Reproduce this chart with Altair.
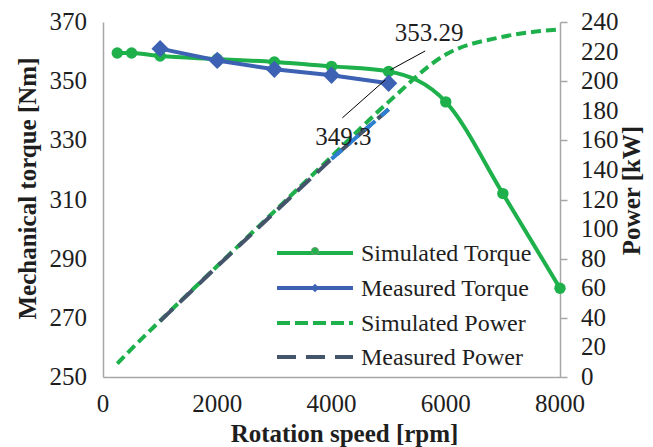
import altair as alt
import pandas as pd

# ---------------- data ----------------
sim_rpm = [250, 500, 1000, 2000, 3000, 4000, 5000, 6000, 7000, 8000]
sim_torque = [359.5, 359.5, 358.5, 357.5, 356.5, 355.0, 353.29, 343.0, 312.0, 280.0]
sim_power = [9, 19, 38, 75, 112, 149, 186, 218, 230, 235]

meas_rpm = [1000, 2000, 3000, 4000, 5000]
meas_torque = [361.0, 357.0, 354.0, 352.0, 349.3]
meas_power = [37.8, 74.8, 111.2, 147.4, 181.0]

ann_text = ["353.29", "349.3"]
ann_text_x = [5710, 4210]
ann_text_y = [366.3, 331.1]
ann_x1 = [5640, 4190]
ann_y1 = [360.2, 337.6]
ann_x2 = [5030, 4940]
ann_y2 = [353.8, 350.4]

x_ticks = [0, 2000, 4000, 6000, 8000]
torque_ticks = [250, 270, 290, 310, 330, 350, 370]
power_ticks = [0, 20, 40, 60, 80, 100, 120, 140, 160, 180, 200, 220, 240]

legend_labels = ["Simulated Torque", "Measured Torque", "Simulated Power", "Measured Power"]

GREEN = "#1db04b"
BLUE = "#3d62b3"
SLATE = "#44546a"
LBLUE = "#2e7fd0"
FONT = "Liberation Serif"
AXC = "#a6a6a6"
TXT = "#1e1e1e"
FS = 25
LFS = 24
W, H = 457, 355

sim = pd.DataFrame({"rpm": sim_rpm, "torque": sim_torque, "power": sim_power})
meas = pd.DataFrame({"rpm": meas_rpm, "torque": meas_torque, "power": meas_power})
ann = pd.DataFrame({"text": ann_text, "tx": ann_text_x, "ty": ann_text_y,
                    "x1": ann_x1, "y1": ann_y1, "x2": ann_x2, "y2": ann_y2})
xt = pd.DataFrame({"rpm": x_ticks})
tt = pd.DataFrame({"torque": torque_ticks})
pt = pd.DataFrame({"power": power_ticks})

common = dict(grid=False, labels=False,
              titleFont=FONT, titleFontSize=FS, titleFontWeight="bold", titleColor=TXT,
              domainColor=AXC, domainWidth=1.5)

xscale = alt.Scale(domain=[0, 8000], nice=False)
xenc = alt.X("rpm:Q", scale=xscale,
             axis=alt.Axis(values=x_ticks, ticks=False, title="Rotation speed [rpm]",
                           titleX=241, titleY=56, titleBaseline="middle",
                           titleAlign="center", **common))

tscale = alt.Scale(domain=[250, 370], nice=False, zero=False)
pscale = alt.Scale(domain=[0, 240], nice=False)

taxis = alt.Axis(orient="left", values=torque_ticks, ticks=False,
                 title="Mechanical torque [Nm]",
                 titleX=-76, titleY=166, titleAngle=270, titleBaseline="middle",
                 titleAlign="center", **common)
paxis = alt.Axis(orient="right", values=power_ticks, ticks=True,
                 tickSize=7, tickColor=AXC, tickWidth=1.5,
                 title="Power [kW]", titleX=71, titleY=168, titleAngle=270,
                 titleBaseline="middle", titleAlign="center", **common)

# power layer (right axis)
p_sim = alt.Chart(sim).mark_line(color=GREEN, strokeWidth=4, strokeDash=[10, 5],
                                 interpolate="monotone").encode(
    x=xenc, y=alt.Y("power:Q", scale=pscale, axis=paxis))
p_meas = alt.Chart(meas).mark_line(color=SLATE, strokeWidth=4, strokeDash=[18, 9]).encode(
    x="rpm:Q", y=alt.Y("power:Q", scale=pscale))
p_meas_b = alt.Chart(meas).transform_filter("datum.rpm >= 4000").mark_line(
    color=LBLUE, strokeWidth=4, strokeDash=[14, 8]).encode(
    x="rpm:Q", y=alt.Y("power:Q", scale=pscale))
p_lab = alt.Chart(pt).mark_text(font=FONT, fontSize=FS, color=TXT, align="left",
                                baseline="middle").encode(
    x=alt.value(W + 21), y=alt.Y("power:Q", scale=pscale), text=alt.Text("power:Q", format="d"))
power = alt.layer(p_sim, p_meas, p_meas_b, p_lab)

# torque layer (left axis)
t_sim = alt.Chart(sim).mark_line(color=GREEN, strokeWidth=4, interpolate="monotone").encode(
    x=xenc, y=alt.Y("torque:Q", scale=tscale, axis=taxis))
t_sim_pts = alt.Chart(sim).mark_point(shape="circle", filled=True, color=GREEN, size=130,
                                      opacity=1).encode(
    x="rpm:Q", y=alt.Y("torque:Q", scale=tscale))
t_meas = alt.Chart(meas).mark_line(color=BLUE, strokeWidth=4).encode(
    x="rpm:Q", y=alt.Y("torque:Q", scale=tscale))
t_meas_pts = alt.Chart(meas).mark_point(shape="diamond", filled=True, color=BLUE, size=300,
                                        opacity=1).encode(
    x="rpm:Q", y=alt.Y("torque:Q", scale=tscale))
a_rule = alt.Chart(ann).mark_rule(color="black", strokeWidth=1).encode(
    x="x1:Q", y=alt.Y("y1:Q", scale=tscale), x2="x2:Q", y2="y2:Q")
a_text = alt.Chart(ann).mark_text(font=FONT, fontSize=FS, color=TXT).encode(
    x="tx:Q", y=alt.Y("ty:Q", scale=tscale), text="text:N")
t_lab = alt.Chart(tt).mark_text(font=FONT, fontSize=FS, color=TXT, align="right",
                                baseline="middle").encode(
    x=alt.value(-16), y=alt.Y("torque:Q", scale=tscale), text=alt.Text("torque:Q", format="d"))
x_lab = alt.Chart(xt).mark_text(font=FONT, fontSize=FS, color=TXT, align="center",
                                baseline="middle").encode(
    x=alt.X("rpm:Q", scale=xscale), y=alt.value(H + 27), text=alt.Text("rpm:Q", format="d"))
torque = alt.layer(t_sim, t_sim_pts, t_meas, t_meas_pts, a_rule, a_text, t_lab, x_lab)

# manual legend
LX1, LX2, TX = 174, 250, 258
rows = [231, 266, 301, 335]
ld = pd.DataFrame({"label": legend_labels})
leg = []
styles = [
    dict(color=GREEN, strokeWidth=4),
    dict(color=BLUE, strokeWidth=4),
    dict(color=GREEN, strokeWidth=4, strokeDash=[13, 5]),
    dict(color=SLATE, strokeWidth=4, strokeDash=[19, 10]),
]
for i, (yy, st) in enumerate(zip(rows, styles)):
    leg.append(alt.Chart(ld).transform_filter(f"datum.label == '{legend_labels[i]}'")
               .mark_rule(**st).encode(x=alt.value(LX1), x2=alt.value(LX2), y=alt.value(yy)))
    leg.append(alt.Chart(ld).transform_filter(f"datum.label == '{legend_labels[i]}'")
               .mark_text(font=FONT, fontSize=LFS, align="left", baseline="middle",
                          color=TXT)
               .encode(x=alt.value(TX), y=alt.value(yy + 1), text="label:N"))
leg.append(alt.Chart(ld).transform_filter(f"datum.label == '{legend_labels[0]}'")
           .mark_point(shape="circle", filled=True, color=GREEN, size=50, opacity=1,
                       stroke="#6d9e6f", strokeWidth=1)
           .encode(x=alt.value((LX1 + LX2) / 2), y=alt.value(rows[0] - 2)))
leg.append(alt.Chart(ld).transform_filter(f"datum.label == '{legend_labels[1]}'")
           .mark_point(shape="diamond", filled=True, color=BLUE, size=70, opacity=1)
           .encode(x=alt.value((LX1 + LX2) / 2), y=alt.value(rows[1])))
legend = alt.layer(*leg)

chart = alt.layer(power, torque, legend).resolve_scale(y="independent").properties(
    width=W, height=H,
    autosize=alt.AutoSizeParams(type="none"),
    padding={"left": 103, "top": 22, "right": 93, "bottom": 70},
    background="white",
).configure_view(stroke=None)

chart.save("out.html", embed_options={"renderer": "svg", "actions": False})
